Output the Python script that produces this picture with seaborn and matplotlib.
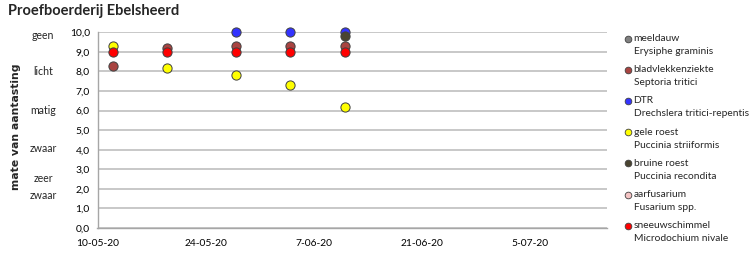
import matplotlib
matplotlib.use("Agg")
import matplotlib.pyplot as plt
import matplotlib.transforms as mtransforms
from matplotlib.lines import Line2D
import seaborn as sns
import pandas as pd

sns.set_theme(style="white")
plt.rcParams['font.family'] = ['Lato', 'DejaVu Sans']

# ---- data ----
dates = ["2020-05-12", "2020-05-19", "2020-05-28", "2020-06-04", "2020-06-11"]
series_names = ["meeldauw", "bladvlekkenziekte", "DTR", "gele roest",
                "bruine roest", "aarfusarium", "sneeuwschimmel"]
latin_names = ["Erysiphe graminis", "Septoria tritici", "Drechslera tritici-repentis",
               "Puccinia striiformis", "Puccinia recondita", "Fusarium spp.",
               "Microdochium nivale"]
meeldauw = [None, None, None, None, None]
bladvlekkenziekte = [8.3, 9.2, 9.3, 9.3, 9.3]
dtr = [None, None, 10.0, 10.0, 10.0]
gele_roest = [9.3, 8.2, 7.8, 7.3, 6.2]
bruine_roest = [None, None, None, None, 9.8]
aarfusarium = [None, None, None, None, None]
sneeuwschimmel = [9.0, 9.0, 9.0, 9.0, 9.0]
colors = ["#808080", "#A94441", "#3333FF", "#FFFF00", "#4A4430", "#F5C4C4", "#FF0000"]
y_ticks = [0, 1, 2, 3, 4, 5, 6, 7, 8, 9, 10]
severity_labels = ["geen", "licht", "matig", "zwaar", "zeer\nzwaar"]
severity_pos = [9.85, 8.0, 6.0, 4.05, 2.1]
x_ticks = ["2020-05-10", "2020-05-24", "2020-06-07", "2020-06-21", "2020-07-05"]
x_range = ["2020-05-10", "2020-07-15"]

all_vals = [meeldauw, bladvlekkenziekte, dtr, gele_roest, bruine_roest, aarfusarium, sneeuwschimmel]
rows = []
for name, vals in zip(series_names, all_vals):
    for d, v in zip(dates, vals):
        if v is not None:
            rows.append({"datum": pd.Timestamp(d), "waarde": v, "ziekte": name})
df = pd.DataFrame(rows)

W, H = 750, 257
fig = plt.figure(figsize=(W / 100, H / 100), dpi=100)
ax = fig.add_axes([97.5 / W, 1 - 228 / H, (607 - 97.5) / W, (228 - 32.3) / H])

for name, col in zip(series_names, colors):
    sub = df[df["ziekte"] == name]
    if len(sub):
        sns.scatterplot(data=sub, x="datum", y="waarde", color=col, s=44,
                        edgecolor="#404040", linewidth=0.7, ax=ax, legend=False,
                        zorder=3, clip_on=False)

ax.set_xlim(pd.Timestamp(x_range[0]), pd.Timestamp(x_range[1]))
ax.set_ylim(0, 10)
ax.set_yticks(y_ticks)
ax.set_yticklabels([f"{v:.1f}".replace(".", ",") for v in y_ticks])
ax.set_xticks([pd.Timestamp(t) for t in x_ticks])
ax.set_xticklabels([f"{pd.Timestamp(t).day}-{pd.Timestamp(t):%m-%y}" for t in x_ticks])
ax.grid(axis="y", color="#BFBFBF", linewidth=1.2, zorder=0)
ax.grid(axis="x", visible=False)
ax.set_axisbelow(True)
for s in ["top", "right"]:
    ax.spines[s].set_visible(False)
for s in ["left", "bottom"]:
    ax.spines[s].set_color("#A6A6A6")
    ax.spines[s].set_linewidth(1.0)
ax.tick_params(axis="both", which="both", length=3, width=0.8, color="#A6A6A6",
               labelsize=7.4, labelcolor="#000000")
ax.tick_params(axis="y", direction="out", pad=2.5)
ax.tick_params(axis="x", direction="in", pad=8)
ax.set_xlabel("")
ax.set_ylabel("")

blend = mtransforms.blended_transform_factory(fig.transFigure, ax.transData)
for lab, pos in zip(severity_labels, severity_pos):
    ax.text(43 / W, pos, lab, transform=blend, ha="center", va="center",
            fontsize=7.6, linespacing=1.75)

fig.text(16 / W, 1 - 127 / H, "mate van aantasting", rotation=90, ha="center",
         va="center", fontsize=7.8, fontweight="bold", family="DejaVu Sans")
fig.text(8 / W, 1 - 11 / H, "Proefboerderij Ebelsheerd", ha="left", va="center",
         fontsize=10.5, fontweight="bold")

# legend
for i, (name, latin, col) in enumerate(zip(series_names, latin_names, colors)):
    yy = 38.5 + 31.2 * i
    fig.add_artist(Line2D([628.3 / W], [1 - yy / H], marker="o", markersize=4.8,
                          markerfacecolor=col, markeredgecolor="#404040",
                          markeredgewidth=0.6, linestyle="none",
                          transform=fig.transFigure))
    fig.text(633.5 / W, 1 - yy / H, name, ha="left", va="center", fontsize=7.4)
    fig.text(634 / W, 1 - (yy + 13) / H, latin, ha="left", va="center", fontsize=7.4)

fig.savefig("out.png", dpi=100)
